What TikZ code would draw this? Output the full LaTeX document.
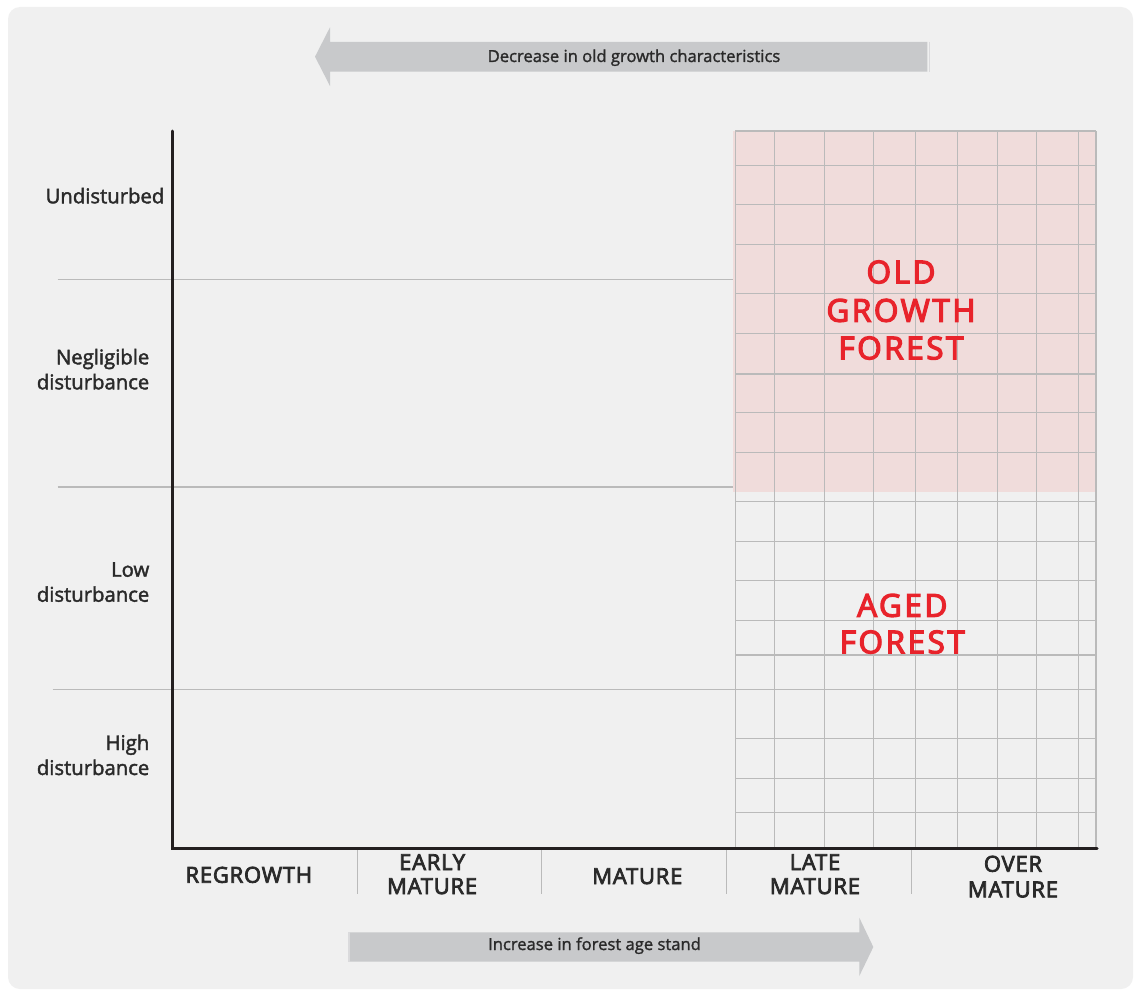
\documentclass[tikz,border=0pt]{standalone}
\usepackage{fontspec}
\setmainfont{Open Sans}
\newfontfamily\lblfont[FakeBold=2]{Open Sans}
\newfontfamily\arrfont[FakeBold=1.5]{Open Sans}
\newfontfamily\capfont[FakeBold=3.5,LetterSpace=3.5]{Open Sans}
\newfontfamily\zonefont[FakeBold=4,LetterSpace=8]{Open Sans}
\definecolor{bg}{HTML}{F0F0F0}
\definecolor{arrowgray}{HTML}{C8C9CB}
\definecolor{arrowedge}{HTML}{DADADC}
\definecolor{gridgray}{HTML}{BABABA}
\definecolor{pinkfill}{HTML}{F0DCDB}
\definecolor{zonered}{HTML}{E8232B}
\definecolor{labeltext}{HTML}{2A2A2A}
\definecolor{axisblack}{HTML}{231F20}
\begin{document}
\begin{tikzpicture}[x=1pt,y=-1pt,
  gridline/.style={draw=gridgray, line width=1.2pt},
  tickline/.style={draw=gridgray, line width=1pt},
  axisline/.style={draw=axisblack, line width=3pt},
  rowlabel/.style={anchor=base east, inner sep=0pt, font=\lblfont\fontsize{20.3}{22}\selectfont, text=labeltext},
  collabel/.style={anchor=base, inner sep=0pt, font=\capfont\fontsize{22}{24}\selectfont, text=labeltext},
  zonelabel/.style={anchor=base, inner sep=0pt, font=\zonefont\fontsize{31.5}{34}\selectfont, text=zonered},
  arrowtext/.style={anchor=base, inner sep=0pt, font=\arrfont\fontsize{16.6}{19}\selectfont, text=labeltext},
  bigarrow/.style={fill=arrowgray, draw=none}]
\useasboundingbox (0,0) rectangle (1139,990);
% background panel
\fill[white] (0,0) rectangle (1139,990);
\fill[bg, rounded corners=12pt] (8,7) rectangle (1133,989);

% pink old growth zone
\fill[pinkfill] (733,131) rectangle (1096,491.7);

% grid
\foreach \gx in {735.3,774.7,824.3,873.7,915.7,957.7,997.3,1036.7,1078.3,1096}
  \draw[gridline] (\gx,131) -- (\gx,848);
\foreach \gy in {131,165.3,204.3,244.3,293.7,333.3,374,412.7,452.3,501.7,541.7,580.7,620.7,655,738.7,778.7,812.7}
  \draw[gridline] (735.3,\gy) -- (1096,\gy);

% horizontal row separators
\draw[gridline] (57.5,279.5) -- (733,279.5);
\draw[gridline] (57.5,487) -- (733,487);
\draw[gridline] (52.5,689.5) -- (1096,689.5);

% column ticks
\foreach \tx in {357,541,726,911}
  \draw[tickline] (\tx,848) -- (\tx,894);

% axes
\draw[axisline, line cap=round] (172,131) -- (172,848) -- (1097,848);

% top arrow
\fill[bigarrow] (927.3,42) -- (330,42) -- (330,27.3) -- (315,56.7) -- (330,86) -- (330,71.7) -- (927.3,71.7) -- cycle;
\draw[arrowedge, line width=1.5pt] (929.6,42) -- (929.6,71.7);
\node[arrowtext] (toptext) at (634,62) {Decrease in old growth characteristics};

% bottom arrow
\fill[bigarrow] (350,932.3) -- (859.3,932.3) -- (859.3,917.7) -- (873.3,947) -- (859.3,976) -- (859.3,961.7) -- (350,961.7) -- cycle;
\draw[arrowedge, line width=1.5pt] (349,932.3) -- (349,961.7);
\node[arrowtext] (bottext) at (594.5,950) {Increase in forest age stand};

% row labels
\node[rowlabel] (undist) at (164.5,203.3) {Undisturbed};
\node[rowlabel] (negl1) at (149.5,364.3) {Negligible};
\node[rowlabel] (negl2) at (149.5,389.3) {disturbance};
\node[rowlabel] (low1) at (149.5,576.7) {Low};
\node[rowlabel] (low2) at (149.5,601.7) {disturbance};
\node[rowlabel] (high1) at (149.5,750) {High};
\node[rowlabel] (high2) at (149.5,775) {disturbance};

% column labels
\node[collabel] (regrowth) at (248.8,882.7) {REGROWTH};
\node[collabel] (early1) at (432.1,870) {EARLY};
\node[collabel] (early2) at (432.1,894) {MATURE};
\node[collabel] (mature) at (637.3,884) {MATURE};
\node[collabel] (late1) at (815,870) {LATE};
\node[collabel] (late2) at (815,894) {MATURE};
\node[collabel] (over1) at (1013,871.7) {OVER};
\node[collabel] (over2) at (1013,897.3) {MATURE};

% zone labels
\node[zonelabel] (og1) at (901,283.3) {OLD};
\node[zonelabel] (og2) at (901,321.7) {GROWTH};
\node[zonelabel] (og3) at (901,359.3) {FOREST};
\node[zonelabel] (aged1) at (902.3,616.7) {AGED};
\node[zonelabel] (aged2) at (902.3,653.3) {FOREST};
\end{tikzpicture}
\end{document}
